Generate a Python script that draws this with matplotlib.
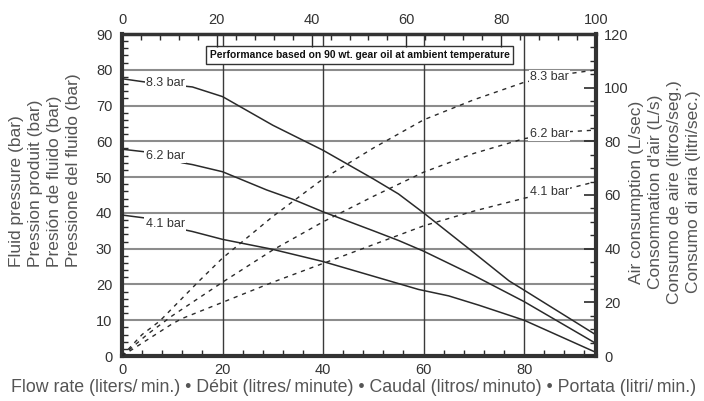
import matplotlib
matplotlib.use("Agg")
import matplotlib.pyplot as plt
from matplotlib.ticker import MultipleLocator

plt.rcParams['font.family'] = ['Liberation Sans', 'DejaVu Sans']

# ---- data: fluid pressure (bar) vs flow rate (L/min) ----
p83_flow = [0, 5, 12, 14, 20, 30, 40, 50, 55, 60, 69, 77, 80, 94.3]
p83_val = [77.5, 76.5, 75.5, 75.2, 72.5, 64.5, 57.5, 49.5, 45.3, 40, 30, 21, 18.4, 5.9]
p62_flow = [0, 5, 12, 14, 20, 28.8, 34, 40, 50, 55, 60, 70, 80, 94.3]
p62_val = [57.8, 57, 54, 53.5, 51.5, 46.4, 43.8, 40.3, 35, 32.3, 29.3, 22.5, 15.2, 3.5]
p41_flow = [0, 5, 12, 14, 20, 30, 40, 50, 59, 65, 71, 80, 94.3]
p41_val = [39.4, 38.5, 35.4, 34.8, 32.6, 29.8, 26.4, 22.3, 18.6, 16.8, 14.2, 10, 1.0]

# ---- data: air consumption (L/sec) vs flow rate ----
a83_flow = [0, 4, 7.5, 15.2, 20, 30, 40, 50, 60, 70, 80, 88, 94.3]
a83_val = [0, 8, 13, 27.7, 36.5, 52, 66, 77.5, 88, 95.5, 102, 105, 106.6]
a62_flow = [0, 5, 10, 20, 30, 40, 50, 60, 70, 80, 88, 94.3]
a62_val = [0, 8, 15, 27.5, 39.5, 50, 59.5, 68.5, 75.5, 81, 83.5, 84.2]
a41_flow = [0, 5, 10, 12, 20, 30, 40, 50, 60, 70, 80, 88, 94.3]
a41_val = [0, 6, 12, 14, 20, 27.5, 34.5, 41.5, 48.5, 54, 58.8, 62, 65]

labels = ["8.3 bar", "6.2 bar", "4.1 bar"]
pressure_series = [(p83_flow, p83_val), (p62_flow, p62_val), (p41_flow, p41_val)]
air_series = [(a83_flow, a83_val), (a62_flow, a62_val), (a41_flow, a41_val)]
pressure_label_pos = [(8.6, 76.2), (8.6, 56.0), (8.6, 37.0)]
air_label_pos = [(85, 104), (85, 82.7), (85, 61)]

left_ticks = list(range(0, 91, 10))
right_ticks = list(range(0, 121, 20))
bottom_ticks = [0, 20, 40, 60, 80]
top_ticks = [0, 20, 40, 60, 80, 100]

title_text = "Performance based on 90 wt. gear oil at ambient temperature"
left_label = "Fluid pressure (bar)\nPression produit (bar)\nPresión de fluido (bar)\nPressione del fluido (bar)"
right_label = "Air consumption (L/sec)\nConsommation d'air (L/s)\nConsumo de aire (litros/seg.)\nConsumo di aria (litri/sec.)"
bottom_label = ("Flow rate (liters/\u2009min.) \u2022 Débit (litres/\u2009minute) \u2022 "
                "Caudal (litros/\u2009minuto) \u2022 Portata (litri/\u2009min.)")

W, H = 704, 401
fig = plt.figure(figsize=(W / 100, H / 100), dpi=100)
ax = fig.add_axes([122 / W, (H - 356) / H, (596 - 122) / W, (356 - 34) / H])

dark = "#2a2a2a"
ax.set_xlim(0, 94.3)
ax.set_ylim(0, 90)

# grid
for v in left_ticks[1:-1]:
    ax.axhline(v, color="#8c8c8c", lw=1.5, zorder=1)
for v in bottom_ticks[1:]:
    ax.axvline(v, color="#3a3a3a", lw=1.0, zorder=1)

for (fx, fy), lab, (lx, ly) in zip(pressure_series, labels, pressure_label_pos):
    ax.plot(fx, fy, color=dark, lw=1.1, zorder=3)
    ax.text(lx, ly, lab, fontsize=9, color="#333333", ha="center", va="center", zorder=5,
            bbox=dict(boxstyle="square,pad=0.1", fc="white", ec="none"))

ax2 = ax.twinx()
ax2.set_ylim(0, 120)
for (fx, fy), lab, (lx, ly) in zip(air_series, labels, air_label_pos):
    ax2.plot(fx, fy, color=dark, lw=1.0, ls=(0, (3, 3.5)), zorder=3)
    ax2.text(lx, ly, lab, fontsize=9, color="#333333", ha="center", va="center", zorder=5,
             bbox=dict(boxstyle="square,pad=0.1", fc="white", ec="none"))

ax3 = ax.twiny()
ax3.set_xlim(0, 100)

# ticks
ax.set_yticks(left_ticks)
ax.yaxis.set_minor_locator(MultipleLocator(2))
ax.set_xticks(bottom_ticks)
ax.xaxis.set_minor_locator(MultipleLocator(4))
ax.tick_params(axis="y", which="major", direction="in", length=0, pad=7, labelsize=10.5, labelcolor="#333333")
ax.tick_params(axis="y", which="minor", direction="in", length=4, width=1, color=dark)
ax.tick_params(axis="x", which="major", direction="in", length=0, pad=5, labelsize=10.5, labelcolor="#333333")
ax.tick_params(axis="x", which="minor", direction="in", length=4, width=1, color=dark)

ax2.set_yticks(right_ticks)
ax2.yaxis.set_minor_locator(MultipleLocator(5))
ax2.tick_params(axis="y", which="major", direction="in", length=9, width=1.2, color=dark, pad=6,
                labelsize=10.5, labelcolor="#333333")
ax2.tick_params(axis="y", which="minor", direction="in", length=4, width=1, color=dark)

ax3.set_xticks(top_ticks)
ax3.xaxis.set_minor_locator(MultipleLocator(4))
ax3.tick_params(axis="x", which="major", direction="in", length=9, width=1, color=dark, pad=5,
                labelsize=10.5, labelcolor="#333333")
ax3.tick_params(axis="x", which="minor", direction="in", length=4, width=1, color=dark)

for a in (ax, ax2, ax3):
    for s in a.spines.values():
        s.set_visible(False)
ax.spines["left"].set_visible(True)
ax.spines["bottom"].set_visible(True)
ax2.spines["right"].set_visible(True)
ax3.spines["top"].set_visible(True)
ax.spines["left"].set_linewidth(3)
ax.spines["bottom"].set_linewidth(3)
ax2.spines["right"].set_linewidth(3)
ax3.spines["top"].set_linewidth(2.5)
for s in (ax.spines["left"], ax.spines["bottom"], ax2.spines["right"], ax3.spines["top"]):
    s.set_color("#333333")

# title box
ax.text(359.5 / W, (H - 55) / H, title_text, transform=fig.transFigure, ha="center", va="center",
        fontsize=7.4, fontweight="bold", color="#111111",
        zorder=6, bbox=dict(boxstyle="square,pad=0.35", fc="white", ec="#333333", lw=1))

fig.text(45 / W, (H - 267) / H, left_label, rotation=90, ha="center", va="bottom",
         multialignment="left", fontsize=12.5, color="#555555", linespacing=1.33)
fig.text(665 / W, (H - 192) / H, right_label, rotation=90, ha="center", va="center",
         multialignment="center", fontsize=12.5, color="#555555", linespacing=1.33)
fig.text(354 / W, (H - 388) / H, bottom_label, ha="center", va="center", fontsize=12.8, color="#555555")

fig.savefig("out.png", dpi=100)
